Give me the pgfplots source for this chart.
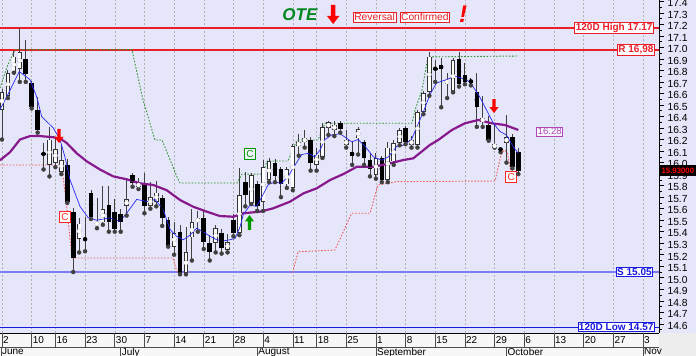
\documentclass[border=0pt]{standalone}
\usepackage{fontspec}
\setmainfont{Liberation Sans}
\usepackage{pgfplots}
\usepackage{pgfplotstable}
\pgfplotsset{compat=1.18}

\definecolor{bgc}{RGB}{230,230,250}
\definecolor{maBlue}{RGB}{40,40,245}
\definecolor{maPurple}{RGB}{135,25,140}
\definecolor{rline}{RGB}{235,30,40}
\definecolor{sline}{RGB}{125,125,240}
\definecolor{lline}{RGB}{25,25,225}
\definecolor{grn}{RGB}{50,150,50}
\definecolor{otegreen}{RGB}{0,135,30}
\definecolor{labpurple}{RGB}{175,70,185}
\definecolor{rdot}{RGB}{245,90,90}

\pgfdeclareplotmark{dnarrow}{%
  \pgfpathmoveto{\pgfpoint{-1.7pt}{14pt}}%
  \pgfpathlineto{\pgfpoint{1.7pt}{14pt}}%
  \pgfpathlineto{\pgfpoint{1.7pt}{6pt}}%
  \pgfpathlineto{\pgfpoint{4.6pt}{6pt}}%
  \pgfpathlineto{\pgfpoint{0pt}{0pt}}%
  \pgfpathlineto{\pgfpoint{-4.6pt}{6pt}}%
  \pgfpathlineto{\pgfpoint{-1.7pt}{6pt}}%
  \pgfpathclose\pgfusepathqfill}
\pgfdeclareplotmark{bigdnarrow}{%
  \pgfpathmoveto{\pgfpoint{-2.3pt}{19pt}}%
  \pgfpathlineto{\pgfpoint{2.3pt}{19pt}}%
  \pgfpathlineto{\pgfpoint{2.3pt}{8pt}}%
  \pgfpathlineto{\pgfpoint{6.2pt}{8pt}}%
  \pgfpathlineto{\pgfpoint{0pt}{0pt}}%
  \pgfpathlineto{\pgfpoint{-6.2pt}{8pt}}%
  \pgfpathlineto{\pgfpoint{-2.3pt}{8pt}}%
  \pgfpathclose\pgfusepathqfill}
\pgfdeclareplotmark{uparrow}{%
  \pgfpathmoveto{\pgfpoint{-1.7pt}{-15pt}}%
  \pgfpathlineto{\pgfpoint{1.7pt}{-15pt}}%
  \pgfpathlineto{\pgfpoint{1.7pt}{-6.5pt}}%
  \pgfpathlineto{\pgfpoint{4.6pt}{-6.5pt}}%
  \pgfpathlineto{\pgfpoint{0pt}{0pt}}%
  \pgfpathlineto{\pgfpoint{-4.6pt}{-6.5pt}}%
  \pgfpathlineto{\pgfpoint{-1.7pt}{-6.5pt}}%
  \pgfpathclose\pgfusepathqfill}

% daily candles: trading-day index, open, high, low, close
\pgfplotstableread{
x o h l c
0 16.46 16.64 16.20 16.61
1 16.58 16.80 16.56 16.78
2 16.78 16.97 16.78 16.92
3 16.81 17.17 16.70 16.96
4 16.90 17.06 16.70 16.77
5 16.69 16.71 16.47 16.48
6 16.46 16.57 16.26 16.28
7 16.08 16.17 15.94 16.07
8 15.98 16.31 15.88 16.20
9 16.00 16.22 15.96 16.12
10 15.92 16.15 15.90 16.02
11 15.98 16.03 15.65 15.66
12 15.57 15.61 15.05 15.17
13 15.34 15.52 15.22 15.47
14 15.34 15.53 15.23 15.33
15 15.74 15.76 15.51 15.53
16 15.46 15.69 15.43 15.48
17 15.48 15.80 15.46 15.60
18 15.63 15.80 15.40 15.48
19 15.57 15.68 15.40 15.42
20 15.55 15.60 15.40 15.48
21 15.62 15.85 15.54 15.68
22 15.89 15.91 15.79 15.82
23 15.79 15.87 15.77 15.82
24 15.81 15.91 15.56 15.62
25 15.62 15.83 15.60 15.70
26 15.66 15.84 15.62 15.74
27 15.69 15.72 15.45 15.52
28 15.50 15.53 15.27 15.28
29 15.27 15.48 15.20 15.39
30 15.40 15.46 15.03 15.04
31 15.04 15.44 15.03 15.22
32 15.35 15.60 15.15 15.48
33 15.48 15.58 15.40 15.52
34 15.52 15.58 15.25 15.31
35 15.30 15.37 15.15 15.22
36 15.30 15.46 15.22 15.43
37 15.39 15.42 15.21 15.26
38 15.24 15.38 15.22 15.31
39 15.50 15.55 15.36 15.39
40 15.39 15.95 15.37 15.72
41 15.83 15.92 15.62 15.72
42 15.65 15.91 15.64 15.89
43 15.81 15.84 15.58 15.62
44 15.66 16.02 15.58 15.96
45 15.85 16.04 15.83 16.01
46 16.00 16.03 15.83 15.88
47 15.94 15.96 15.70 15.81
48 15.81 15.96 15.78 15.94
49 15.78 16.16 15.76 16.14
50 16.14 16.25 16.06 16.18
51 16.18 16.28 16.13 16.21
52 16.20 16.22 15.93 16.00
53 15.98 16.13 15.93 16.07
54 16.05 16.34 16.04 16.31
55 16.30 16.36 16.24 16.35
56 16.28 16.36 16.23 16.33
57 16.34 16.36 16.26 16.29
58 16.15 16.28 16.13 16.20
59 16.09 16.18 15.98 16.06
60 16.21 16.31 16.07 16.29
61 16.18 16.20 15.98 16.04
62 16.02 16.08 15.88 15.94
63 15.89 16.08 15.86 16.04
64 16.04 16.06 15.83 15.85
65 15.85 16.18 15.83 16.13
66 16.01 16.20 15.98 16.17
67 16.17 16.30 16.15 16.28
68 16.30 16.32 16.16 16.18
69 16.15 16.23 16.13 16.20
70 16.15 16.46 16.13 16.44
71 16.44 16.62 16.42 16.60
72 16.61 16.96 16.58 16.92
73 16.82 16.89 16.70 16.81
74 16.85 16.91 16.48 16.81
75 16.68 16.78 16.56 16.72
76 16.61 16.91 16.61 16.89
77 16.90 16.96 16.66 16.68
78 16.76 16.86 16.68 16.70
79 16.72 16.73 16.67 16.69
80 16.61 16.78 16.31 16.48
81 16.35 16.58 16.31 16.39
82 16.33 16.40 16.19 16.20
83 16.13 16.34 16.13 16.16
84 16.12 16.13 16.09 16.11
85 16.17 16.41 16.00 16.22
86 16.22 16.25 15.95 15.96
87 16.09 16.13 15.90 15.93
}\candles

% slow moving average (purple)
\pgfplotstableread{
x y
-0.34 16.02
1.35 16.09
3.03 16.20
4.72 16.23
6.4 16.23
8.64 16.22
10.06 16.20
10.9 16.17
12.6 16.08
14.3 16.01
16.5 15.94
18.75 15.88
21.0 15.855
23.25 15.82
25.5 15.805
27.75 15.76
30.0 15.675
32.2 15.617
34.5 15.574
36.7 15.536
38.97 15.53
40.66 15.56
43.5 15.574
45.7 15.603
48.5 15.66
50.8 15.733
53.0 15.776
55.3 15.849
57.5 15.90
59.8 15.964
62.6 15.964
65.4 15.994
67.6 16.022
69.3 16.037
72.1 16.153
73.5 16.196
75.8 16.283
78.0 16.341
80.3 16.37
82.5 16.341
84.75 16.326
87.0 16.283
}\maslow

% fast moving average (blue)
\pgfplotstableread{
x y
-0.34 16.46
0.79 16.57
2.91 16.79
4.72 16.72
5.85 16.57
6.69 16.40
8.64 16.30
9.77 16.20
10.6 16.05
11.46 15.85
13.14 15.62
14.54 15.52
15.96 15.50
18.2 15.52
19.88 15.49
21.0 15.56
22.7 15.68
24.65 15.66
25.78 15.68
27.18 15.59
28.3 15.42
29.4 15.36
30.55 15.33
31.68 15.37
32.8 15.43
33.9 15.40
35.05 15.36
36.17 15.33
37.3 15.32
38.4 15.33
39.26 15.34
40.1 15.44
40.66 15.55
41.8 15.63
42.9 15.62
43.76 15.70
44.87 15.81
46.0 15.83
47.1 15.82
48.2 15.88
49.4 15.98
50.5 16.07
51.6 16.08
52.7 16.05
53.6 16.11
54.4 16.20
55.55 16.24
56.95 16.25
58.1 16.21
58.9 16.18
60.0 16.20
61.2 16.14
62.56 16.05
63.98 16.02
65.1 16.05
66.5 16.14
67.6 16.15
69.0 16.20
69.9 16.31
71.0 16.44
72.1 16.59
73.2 16.69
74.9 16.72
76.3 16.75
77.7 16.73
78.85 16.70
80.5 16.57
81.7 16.45
82.8 16.34
83.9 16.27
85.0 16.24
86.1 16.14
87.0 16.08
}\mafast

% upper trailing line (green dotted)
\pgfplotstableread{
x y
-0.34 16.647
0.84 16.83
2.19 16.98
21.9 16.98
23.76 16.543
25.78 16.196
26.96 16.196
29.49 15.875
29.99 15.823
39.6 15.823
40.44 15.90
43.98 15.90
44.65 16.014
48.19 16.014
49.7 16.196
53.24 16.196
54.42 16.341
69.08 16.341
69.6 16.456
70.77 16.63
71.78 16.917
86.94 16.925
}\upstop

% lower trailing line (red dotted), two pieces
\pgfplotstableread{
x y
-0.34 15.979
9.77 15.979
10.1 15.96
10.78 15.675
11.79 15.172
28.81 15.172
29.49 15.05
}\dnstopA
\pgfplotstableread{
x y
48.98 15.044
49.87 15.226
56.1 15.241
58.92 15.56
62.0 15.56
63.35 15.805
66.5 15.834
83.07 15.84
84.08 16.066
84.6 16.109
85.1 16.092
85.93 15.875
}\dnstopB

\begin{document}
\begin{tikzpicture}[x=1pt,y=1pt]
\useasboundingbox (0,0) rectangle (696,356);
\fill[bgc] (0,23) rectangle (696,356);
\fill[white!97!black] (0,0) rectangle (659,23);
\fill[black!7] (659,0) rectangle (696,23);
\begin{axis}[
  at={(0pt,23pt)}, anchor=south west,
  x=5.935pt, y=115.2pt,
  xmin=-0.337, xmax=110.7, ymin=14.5206, ymax=17.4113,
  clip=false,
  axis x line*=bottom, axis y line*=right,
  axis line style={black, line width=0.8pt, -},
  xtick={0,5,9,14,19,24,29,34,39,44,49,53,58,63,68,73,78,83,88,93,98,103,108},
  xticklabels={}, xtick style={draw=none},
  xmajorgrids,
  grid style={black!30, dash pattern=on 2pt off 2pt, line width=0.5pt},
  ytick distance=0.1, minor y tick num=1,
  tick align=outside, major tick length=5pt, minor tick length=2.7pt,
  ytick style={black, line width=0.6pt},
  yticklabel style={font=\fontsize{10.3}{10.5}\selectfont, xshift=0pt, yshift=-1.8pt,
    /pgf/number format/.cd, fixed, fixed zerofill, precision=1, assume math mode=true},
]
% support / resistance levels
\addplot[draw=rline, line width=2pt] coordinates {(-0.337,17.17) (110.7,17.17)};
\addplot[draw=rline, line width=1.8pt] coordinates {(-0.337,16.98) (110.7,16.98)};
\addplot[draw=sline, line width=2.4pt] coordinates {(-0.337,15.05) (110.7,15.05)};
\addplot[draw=lline, line width=1.6pt] coordinates {(-0.337,14.57) (110.7,14.57)};

% trailing lines
\addplot[color=grn, line width=0.9pt, dash pattern=on 1.6pt off 1.6pt] table {\upstop};
\addplot[color=rdot, line width=0.9pt, dash pattern=on 1.6pt off 1.6pt] table {\dnstopA};
\addplot[color=rdot, line width=0.9pt, dash pattern=on 1.6pt off 1.6pt] table {\dnstopB};

% wicks
\addplot[color=black!75, only marks, mark=none, error bars/.cd, y dir=plus, y explicit, error mark=none,
  error bar style={color=black!75, line width=0.9pt, solid}]
  table[x=x, y=l, y error expr=\thisrow{h}-\thisrow{l}] {\candles};
% black bodies
\addplot[color=black, only marks, mark=none,
  restrict expr to domain={\thisrow{o}-\thisrow{c}}{0.001:10},
  error bars/.cd, y dir=both, y explicit, error mark=none,
  error bar style={color=black, line width=4.6pt, solid}]
  table[x=x, y expr={(\thisrow{o}+\thisrow{c})/2}, y error expr={abs(\thisrow{o}-\thisrow{c})/2}] {\candles};
% white bodies: outline then fill
\addplot[color=black!80, only marks, mark=none,
  restrict expr to domain={\thisrow{c}-\thisrow{o}}{0.001:10},
  error bars/.cd, y dir=both, y explicit, error mark=none,
  error bar style={color=black!80, line width=4.6pt, solid}]
  table[x=x, y expr={(\thisrow{o}+\thisrow{c})/2}, y error expr={abs(\thisrow{o}-\thisrow{c})/2}] {\candles};
\addplot[color=white, only marks, mark=none,
  restrict expr to domain={\thisrow{c}-\thisrow{o}}{0.001:10},
  error bars/.cd, y dir=both, y explicit, error mark=none,
  error bar style={color=white, line width=2.8pt, solid}]
  table[x=x, y expr={(\thisrow{o}+\thisrow{c})/2}, y error expr={max(abs(\thisrow{o}-\thisrow{c})/2-0.0075,0)}] {\candles};

% moving averages
\addplot[color=maPurple, line width=2.2pt] table {\maslow};
\addplot[color=maBlue, line width=0.7pt] table {\mafast};

% signal arrows
\addplot[only marks, mark=dnarrow, mark options={fill=red, draw=none}] coordinates {(9.6,16.17) (82.9,16.43)};
\addplot[only marks, mark=uparrow, mark options={fill=green!60!black, draw=none}] coordinates {(41.7,15.545)};
\addplot[only marks, mark=bigdnarrow, mark options={fill=red, draw=none}] coordinates {(55.8,17.203)};

% labels
\node[font=\fontsize{17}{17}\selectfont\bfseries\itshape, text=otegreen] at (axis cs:50.2,17.28) {OTE};
\node[draw=rline, fill=white, text=rline, line width=0.7pt, inner sep=1.2pt, font=\fontsize{10.3}{11}\selectfont, anchor=east] at (axis cs:66.47,17.262) {Reversal};
\node[draw=rline, fill=white, text=rline, line width=0.7pt, inner sep=1.2pt, font=\fontsize{10.3}{11}\selectfont, anchor=west] at (axis cs:66.98,17.262) {Confirmed};
\node[font=\fontsize{24}{24}\selectfont\bfseries\itshape, text=red] at (axis cs:77.7,17.29) {!};

\node[draw=rline, fill=white, text=rline, line width=0.8pt, inner sep=1pt, font=\fontsize{10}{11}\selectfont\bfseries, anchor=east] at (axis cs:109.85,17.17) {120D High 17.17};
\node[draw=rline, fill=white, text=rline, line width=0.8pt, inner sep=1pt, font=\fontsize{10}{11}\selectfont\bfseries, anchor=east] at (axis cs:110.0,16.98) {R 16,98};
\node[draw=lline, fill=white, text=lline, line width=0.8pt, inner sep=1pt, font=\fontsize{10}{11}\selectfont\bfseries, anchor=east] at (axis cs:109.7,15.05) {S 15.05};
\node[draw=lline, fill=white, text=lline, line width=0.8pt, inner sep=1pt, font=\fontsize{10}{11}\selectfont\bfseries, anchor=east] at (axis cs:110.0,14.575) {120D Low 14.57};
\node[draw=labpurple, fill=white!60!bgc, text=labpurple, line width=0.8pt, inner sep=1.2pt, font=\fontsize{9.5}{10}\selectfont] at (axis cs:92.3,16.27) {16.28};
\coordinate (lastprice) at (axis cs:110.85,15.927);

\node[draw=red!85, fill=white, text=red!85, line width=0.7pt, inner sep=0.8pt, minimum size=11pt, font=\fontsize{10}{10}\selectfont] at (axis cs:10.6,15.53) {C};
\node[draw=green!60!black, fill=white!50!bgc, text=green!60!black, line width=0.7pt, inner sep=0.8pt, minimum size=11pt, font=\fontsize{10}{10}\selectfont] at (axis cs:41.8,16.075) {C};
\node[draw=red!85, fill=white, text=red!85, line width=0.7pt, inner sep=0.8pt, minimum size=11pt, font=\fontsize{10}{10}\selectfont] at (axis cs:85.8,15.873) {C};
\end{axis}
% last price tag on top of the tick labels
\node[fill=black, text=red, inner sep=1.5pt, minimum height=11pt, text width=35pt, align=left, font=\fontsize{7.8}{9}\selectfont\bfseries, anchor=west] at (lastprice) {15.93000};
% date strip: day numbers and months
\foreach \i/\t in {0/2,5/10,9/16,14/23,19/30,24/7,29/14,34/21,39/28,44/4,49/11,53/18,58/25,63/1,68/8,73/15,78/22,83/29,88/6,93/13,98/20,103/27,108/3}{
  \draw[black!70, line width=0.6pt] ({2+5.935*\i},23) -- ({2+5.935*\i},9);
  \node[anchor=west, inner sep=0pt, font=\fontsize{10}{10}\selectfont] at ({3+5.935*\i},15.8) {\t};
}
\foreach \i/\t in {-0.2/June,20/July,43/August,63/September,85/October,108/Nov}{
  \draw[black!70, line width=0.6pt] ({2+5.935*\i},9) -- ({2+5.935*\i},0);
  \node[anchor=north west, inner sep=0pt, font=\fontsize{10}{10}\selectfont] at ({3+5.935*\i},8.3) {\t};
}
\draw[black!70, line width=0.6pt] (0,9) -- (659,9);
\end{tikzpicture}
\end{document}
